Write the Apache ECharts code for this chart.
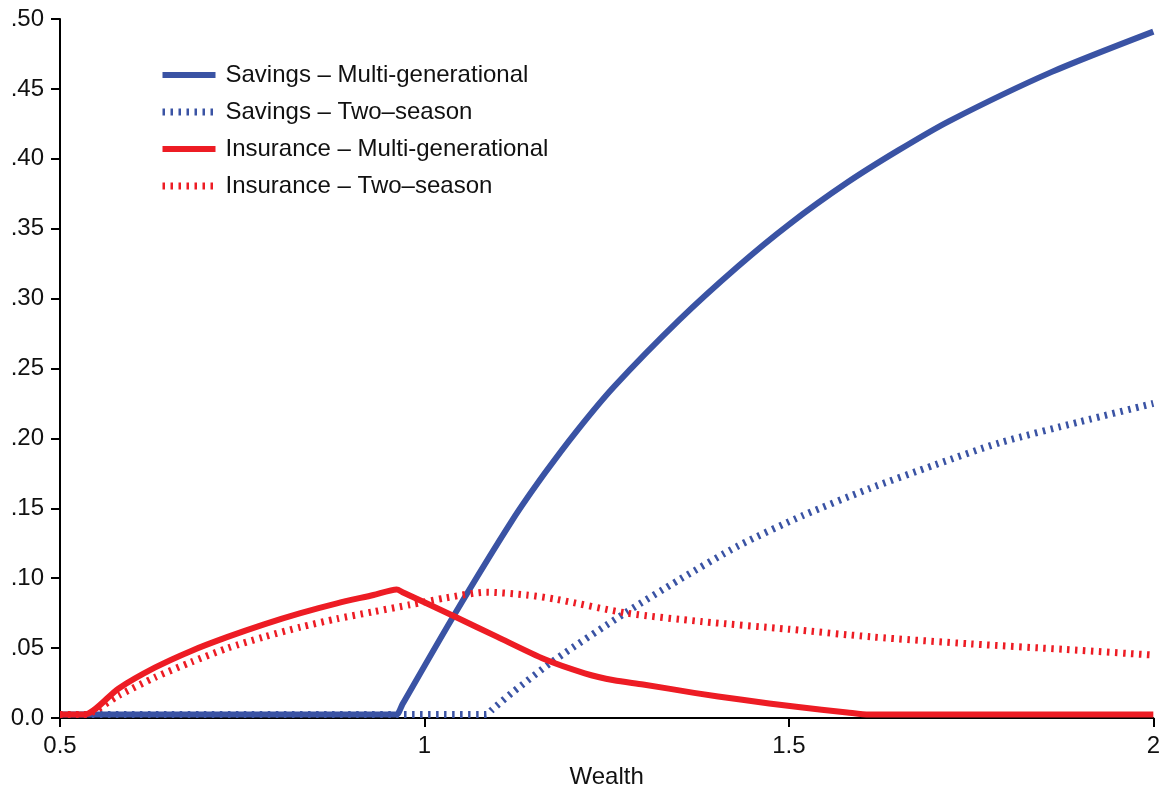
<!DOCTYPE html>
<html>
<head>
<meta charset="utf-8">
<script src="https://cdn.jsdelivr.net/npm/echarts@6/dist/echarts.min.js"></script>
<style>
  html, body { margin: 0; padding: 0; background: #fff; }
  #chart { width: 1163px; height: 794px; }
</style>
</head>
<body>
<div id="chart"></div>
<script>
// wealth (x) and share (y)
const savingsMultiX = [0.5, 0.955, 0.962, 0.97, 1.04, 1.12, 1.165, 1.21, 1.26, 1.35, 1.43, 1.5, 1.58, 1.65, 1.72, 1.86, 2.0];
const savingsMultiY = [0.0025, 0.0025, 0.0025, 0.010, 0.073, 0.141, 0.175, 0.206, 0.237, 0.285, 0.323, 0.353, 0.383, 0.406, 0.427, 0.462, 0.491];

const savingsTwoX = [0.5, 1.078, 1.085, 1.093, 1.12, 1.18, 1.275, 1.35, 1.43, 1.52, 1.61, 1.70, 1.79, 1.9, 2.0];
const savingsTwoY = [0.0025, 0.0025, 0.0025, 0.006, 0.018, 0.042, 0.075, 0.099, 0.123, 0.145, 0.164, 0.181, 0.197, 0.212, 0.225];

const insuranceMultiX = [0.5, 0.53, 0.534, 0.58, 0.63, 0.68, 0.73, 0.78, 0.83, 0.88, 0.93, 0.962, 0.97,
  1.04, 1.10, 1.165, 1.22, 1.26, 1.30, 1.37, 1.436, 1.51, 1.58, 1.61, 2.0];
const insuranceMultiY = [0.0025, 0.0025, 0.0025, 0.021, 0.036, 0.048, 0.058, 0.067, 0.075, 0.082, 0.088, 0.092, 0.090,
  0.073, 0.058, 0.042, 0.032, 0.027, 0.024, 0.018, 0.013, 0.008, 0.004, 0.0025, 0.0025];

const insuranceTwoX = [0.5, 0.53, 0.534, 0.58, 0.63, 0.68, 0.73, 0.78, 0.83, 0.88, 0.93, 0.98, 1.03, 1.085,
  1.14, 1.18, 1.278, 1.38, 1.5, 1.614, 1.75, 1.88, 2.0];
const insuranceTwoY = [0.0025, 0.0025, 0.0025, 0.016, 0.029, 0.040, 0.050, 0.058, 0.065, 0.071, 0.076, 0.081, 0.086, 0.090,
  0.088, 0.085, 0.075, 0.069, 0.0635, 0.058, 0.053, 0.049, 0.045];

const seriesNames = [
  'Savings \u2013 Multi-generational',
  'Savings \u2013 Two\u2013season',
  'Insurance \u2013 Multi-generational',
  'Insurance \u2013 Two\u2013season'
];

const blue = '#3A53A4';
const red = '#ED1C24';
const fontFamily = '"Liberation Sans", Arial, sans-serif';

function pairs(xs, ys) {
  return xs.map((x, i) => [x, ys[i]]);
}

function line(name, xs, ys, color, dotted) {
  return {
    name: name,
    type: 'line',
    data: pairs(xs, ys),
    symbol: 'none',
    smooth: 0.25,
    animation: false,
    lineStyle: {
      color: color,
      width: dotted ? 7 : 6,
      type: dotted ? [2.5, 5.5] : 'solid',
      cap: 'butt',
      join: 'round'
    },
    itemStyle: { color: color }
  };
}

const chart = echarts.init(document.getElementById('chart'));

chart.setOption({
  animation: false,
  backgroundColor: '#fff',
  grid: { left: 60, right: 8, top: 19, bottom: 74 },
  legend: {
    orient: 'vertical',
    left: 159,
    top: 63,
    padding: 0,
    itemWidth: 53,
    itemHeight: 14,
    itemGap: 13,
    itemStyle: { opacity: 0 },
    lineStyle: { width: 'inherit', type: 'inherit', cap: 'butt' },
    textStyle: {
      fontFamily: fontFamily,
      fontSize: 24,
      lineHeight: 24,
      color: '#111',
      padding: [0, 0, 0, 5]
    },
    data: seriesNames
  },
  xAxis: {
    type: 'value',
    min: 0.5,
    max: 2,
    interval: 0.5,
    name: 'Wealth',
    nameLocation: 'middle',
    nameGap: 47,
    nameTextStyle: { fontFamily: fontFamily, fontSize: 24, color: '#111' },
    splitLine: { show: false },
    axisLine: { onZero: false, lineStyle: { color: '#000', width: 2 } },
    axisTick: { show: true, inside: false, length: 9, lineStyle: { color: '#000', width: 2 } },
    axisLabel: {
      fontFamily: fontFamily,
      fontSize: 24,
      color: '#111',
      margin: 16,
      formatter: v => String(v)
    }
  },
  yAxis: {
    type: 'value',
    min: 0,
    max: 0.5,
    interval: 0.05,
    splitLine: { show: false },
    axisLine: { show: true, lineStyle: { color: '#000', width: 2 } },
    axisTick: { show: true, inside: false, length: 9, lineStyle: { color: '#000', width: 2 } },
    axisLabel: {
      fontFamily: fontFamily,
      fontSize: 24,
      color: '#111',
      margin: 16,
      formatter: v => (v === 0 ? '0.0' : v.toFixed(2).replace(/^0/, ''))
    }
  },
  series: [
    line(seriesNames[0], savingsMultiX, savingsMultiY, blue, false),
    line(seriesNames[1], savingsTwoX, savingsTwoY, blue, true),
    line(seriesNames[2], insuranceMultiX, insuranceMultiY, red, false),
    line(seriesNames[3], insuranceTwoX, insuranceTwoY, red, true)
  ]
});
</script>
</body>
</html>
